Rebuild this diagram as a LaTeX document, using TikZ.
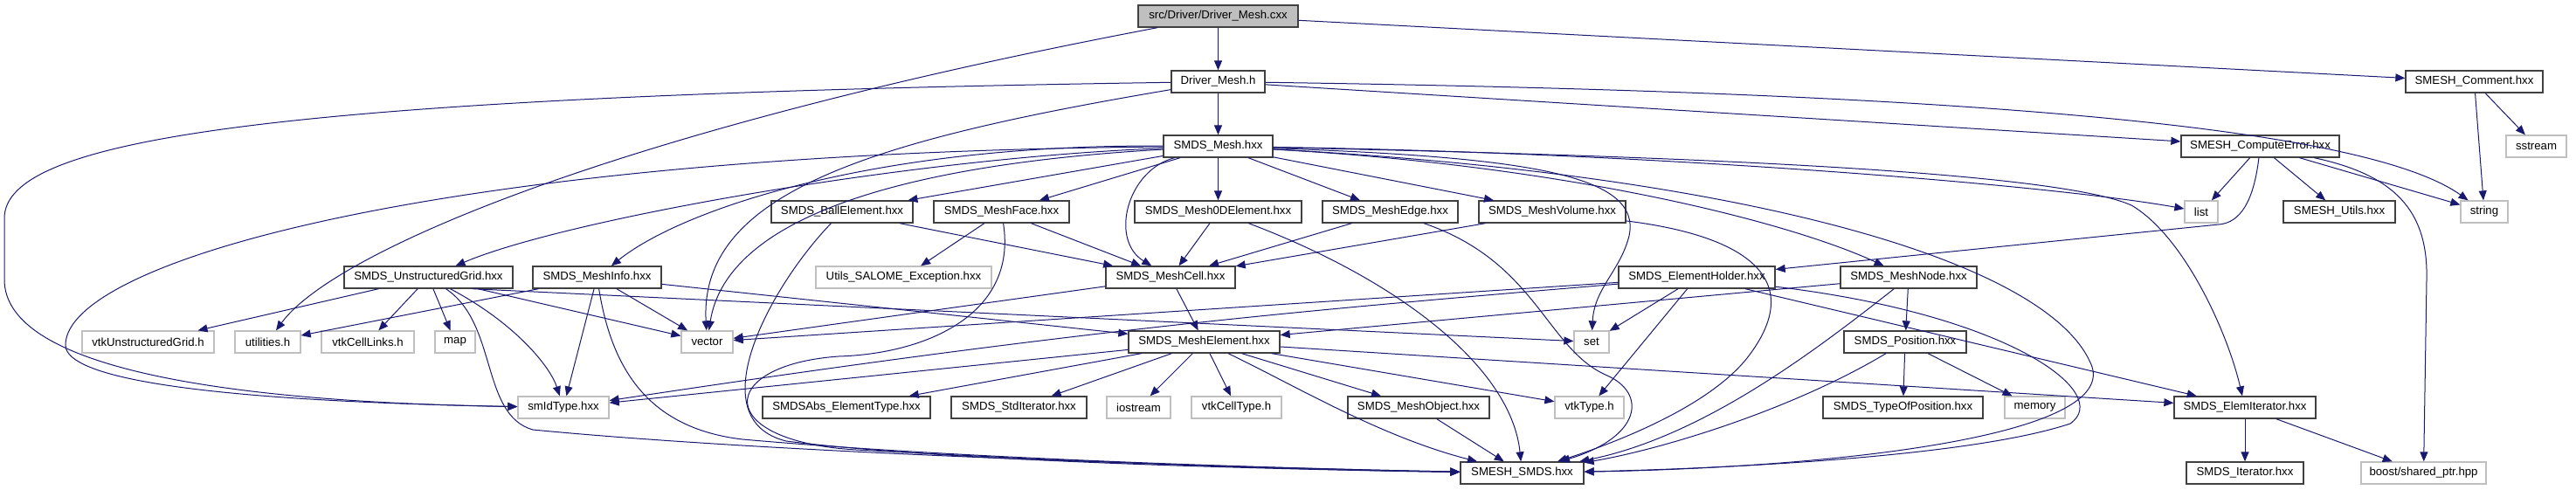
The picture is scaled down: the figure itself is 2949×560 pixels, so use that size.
\documentclass[tikz,border=0pt]{standalone}
\usepackage{fontspec}
\setmainfont{Liberation Sans}
\usetikzlibrary{arrows.meta}
\definecolor{edgec}{HTML}{191970}
\definecolor{extb}{HTML}{BFBFBF}
\definecolor{docb}{HTML}{404040}
\begin{document}
\begin{tikzpicture}[x=1pt,y=-1pt,
  nd/.style={draw=docb, line width=1.3pt, fill=white, minimum height=25pt, inner sep=0pt, font=\fontsize{13.2pt}{15pt}\selectfont, text=black},
  ext/.style={nd, draw=extb},
  rootn/.style={nd, fill=extb, draw=docb},
  e/.style={draw=edgec, line width=1pt, -{Triangle[length=11pt,width=9pt]}}]
\useasboundingbox (0,0) rectangle (2949,560);
% nodes
\node[rootn, minimum width=183pt] (root) at (1394.5,18.5) {src/Driver/Driver\_Mesh.cxx};
\node[nd, minimum width=107pt] (dmh) at (1394.5,93.5) {Driver\_Mesh.h};
\node[nd, minimum width=157pt] (comment) at (2832.5,93.5) {SMESH\_Comment.hxx};
\node[nd, minimum width=125pt] (mesh) at (1394.5,167.5) {SMDS\_Mesh.hxx};
\node[nd, minimum width=181pt] (cerr) at (2587.5,167.5) {SMESH\_ComputeError.hxx};
\node[ext, minimum width=69pt] (sstream) at (2903.5,167.5) {sstream};
\node[nd, minimum width=162pt] (ball) at (964,242.5) {SMDS\_BallElement.hxx};
\node[nd, minimum width=155pt] (face) at (1146.5,242.5) {SMDS\_MeshFace.hxx};
\node[nd, minimum width=191pt] (zerod) at (1394.5,242.5) {SMDS\_Mesh0DElement.hxx};
\node[nd, minimum width=155pt] (medge) at (1591.5,242.5) {SMDS\_MeshEdge.hxx};
\node[nd, minimum width=168pt] (vol) at (1777,242.5) {SMDS\_MeshVolume.hxx};
\node[ext, minimum width=38pt] (slist) at (2520,242.5) {list};
\node[nd, minimum width=128pt] (utils) at (2678,242.5) {SMESH\_Utils.hxx};
\node[ext, minimum width=54pt] (sstring) at (2844,242.5) {string};
\node[nd, minimum width=193pt] (ug) at (490.5,317.5) {SMDS\_UnstructuredGrid.hxx};
\node[nd, minimum width=147pt] (info) at (683.5,317.5) {SMDS\_MeshInfo.hxx};
\node[ext, minimum width=201pt] (salome) at (1034.5,317.5) {Utils\_SALOME\_Exception.hxx};
\node[nd, minimum width=148pt] (cell) at (1340,317.5) {SMDS\_MeshCell.hxx};
\node[nd, minimum width=179pt] (holder) at (1942.5,317.5) {SMDS\_ElementHolder.hxx};
\node[nd, minimum width=156pt] (mnode) at (2185,317.5) {SMDS\_MeshNode.hxx};
\node[ext, minimum width=151pt] (vtkug) at (169.5,391.5) {vtkUnstructuredGrid.h};
\node[ext, minimum width=75pt] (utilities) at (306.5,391.5) {utilities.h};
\node[ext, minimum width=106pt] (links) at (421,391.5) {vtkCellLinks.h};
\node[ext, minimum width=46pt] (smap) at (521,391.5) {map};
\node[ext, minimum width=59pt] (vector) at (809.5,391.5) {vector};
\node[nd, minimum width=173pt] (elem) at (1378.5,391.5) {SMDS\_MeshElement.hxx};
\node[ext, minimum width=40pt] (sset) at (1822,391.5) {set};
\node[nd, minimum width=140pt] (pos) at (2181,391.5) {SMDS\_Position.hxx};
\node[ext, minimum width=104pt] (smid) at (645,466.5) {smIdType.hxx};
\node[nd, minimum width=192pt] (abs) at (969,466.5) {SMDSAbs\_ElementType.hxx};
\node[nd, minimum width=155pt] (stdit) at (1166.5,466.5) {SMDS\_StdIterator.hxx};
\node[ext, minimum width=73pt] (iostream) at (1303.5,466.5) {iostream};
\node[ext, minimum width=103pt] (celltype) at (1415.5,466.5) {vtkCellType.h};
\node[nd, minimum width=162pt] (obj) at (1624,466.5) {SMDS\_MeshObject.hxx};
\node[ext, minimum width=79pt] (vtktype) at (1819.5,466.5) {vtkType.h};
\node[nd, minimum width=183pt] (tpos) at (2178.5,466.5) {SMDS\_TypeOfPosition.hxx};
\node[ext, minimum width=69pt] (memory) at (2329.5,466.5) {memory};
\node[nd, minimum width=162pt] (elemit) at (2570,466.5) {SMDS\_ElemIterator.hxx};
\node[nd, minimum width=141pt] (smds) at (1742.5,541.5) {SMESH\_SMDS.hxx};
\node[nd, minimum width=134pt] (iter) at (2570,541.5) {SMDS\_Iterator.hxx};
\node[ext, minimum width=143pt] (boost) at (2774.5,541.5) {boost/shared\_ptr.hpp};
% root
\draw[e] (root) -- (dmh);
\draw[e] (root) -- (comment);
\draw[e] (root) .. controls (700,150) and (380,290) .. (utilities);
% Driver_Mesh.h
\draw[e] (dmh) -- (mesh);
\draw[e] (dmh) -- (cerr);
\draw[e] (dmh) .. controls (2200,105) and (2700,140) .. (sstring);
\draw[e] (dmh) .. controls (1000,160) and (800,220) .. (vector);
\draw[e] (dmh) .. controls (300,110) and (5,160) .. (5,250) -- (5,320) .. controls (5,420) and (250,460) .. (smid);
% SMDS_Mesh
\draw[e] (mesh) -- (ball);
\draw[e] (mesh) -- (face);
\draw[e] (mesh) -- (zerod);
\draw[e] (mesh) -- (medge);
\draw[e] (mesh) -- (vol);
\draw[e] (mesh) .. controls (1290,195) and (1270,275) .. (cell);
\draw[e] (mesh) .. controls (1050,180) and (650,250) .. (ug);
\draw[e] (mesh) .. controls (1000,165) and (780,240) .. (info);
\draw[e] (mesh) .. controls (1000,190) and (830,260) .. (vector);
\draw[e] (mesh) .. controls (500,175) and (75,300) .. (75,395) .. controls (75,450) and (400,462) .. (smid);
\draw[e] (mesh) .. controls (1900,175) and (2350,212) .. (slist);
\draw[e] (mesh) .. controls (1900,178) and (2350,195) .. (2440,235) .. controls (2500,270) and (2550,380) .. (elemit);
\draw[e] (mesh) .. controls (1750,180) and (1880,200) .. (1865,270) .. controls (1855,310) and (1825,330) .. (sset);
\draw[e] (mesh) .. controls (1800,190) and (2050,255) .. (mnode);
\draw[e] (mesh) .. controls (2000,200) and (2350,300) .. (2395,420) .. controls (2420,500) and (2100,535) .. (smds);
% ComputeError
\draw[e] (cerr) -- (slist);
\draw[e] (cerr) -- (utils);
\draw[e] (cerr) -- (sstring);
\draw[e] (cerr) .. controls (2740,200) and (2780,240) .. (2778,320) -- (boost);
\draw[e] (cerr) .. controls (2580,230) and (2565,255) .. (2540,257) -- (holder);
% Comment
\draw[e] (comment) -- (sstring);
\draw[e] (comment) -- (sstream);
% row 4
\draw[e] (ball) -- (cell);
\draw[e] (ball) .. controls (880,330) and (800,480) .. (900,505) .. controls (1100,530) and (1500,538) .. (smds);
\draw[e] (face) -- (salome);
\draw[e] (face) -- (cell);
\draw[e] (face) .. controls (1165,360) and (1060,405) .. (960,408) .. controls (820,418) and (815,505) .. (980,515) .. controls (1300,532) and (1500,538) .. (smds);
\draw[e] (zerod) -- (cell);
\draw[e] (zerod) .. controls (1600,320) and (1730,420) .. (smds);
\draw[e] (medge) -- (cell);
\draw[e] (medge) .. controls (1760,300) and (1770,400) .. (1840,430) .. controls (1885,450) and (1880,500) .. (smds);
\draw[e] (vol) -- (cell);
\draw[e] (vol) .. controls (2000,270) and (2070,320) .. (2000,410) .. controls (1960,460) and (1870,500) .. (smds);
% row 5
\draw[e] (ug) -- (vtkug);
\draw[e] (ug) -- (links);
\draw[e] (ug) -- (smap);
\draw[e] (ug) -- (vector);
\draw[e] (ug) .. controls (590,370) and (630,420) .. (smid);
\draw[e] (ug) .. controls (570,370) and (550,475) .. (610,492) .. controls (900,520) and (1400,535) .. (smds);
\draw[e] ([xshift=-47pt]ug.south east) -- (sset);
\draw[e] (info) -- (vector);
\draw[e] (info) -- (smid);
\draw[e] (info) -- (utilities);
\draw[e] (info) -- (elem);
\draw[e] (info) .. controls (700,420) and (740,490) .. (850,503) .. controls (1100,525) and (1450,536) .. (smds);
\draw[e] (cell) -- (elem);
\draw[e] (cell) -- (vector);
\draw[e] (holder) -- (vector);
\draw[e] (holder) .. controls (1500,355) and (1250,375) .. (smid);
\draw[e] (holder) -- (sset);
\draw[e] (holder) -- (vtktype);
\draw[e] (holder) -- (elemit);
\draw[e] (holder) .. controls (2300,360) and (2420,450) .. (2370,485) .. controls (2250,525) and (1950,537) .. (smds);
\draw[e] (mnode) -- (elem);
\draw[e] (mnode) -- (pos);
\draw[e] (mnode) .. controls (2080,400) and (1950,500) .. (smds);
% row 6
\draw[e] (pos) -- (tpos);
\draw[e] (pos) -- (memory);
\draw[e] (pos) .. controls (2050,470) and (1900,515) .. (smds);
\draw[e] (elem) -- (abs);
\draw[e] (elem) -- (stdit);
\draw[e] (elem) -- (iostream);
\draw[e] (elem) -- (celltype);
\draw[e] (elem) -- (obj);
\draw[e] (elem) -- (vtktype);
\draw[e] (elem) .. controls (1480,440) and (1580,500) .. (smds);
\draw[e] (elem) -- (elemit);
\draw[e] (elem) -- (smid);
% row 7
\draw[e] (elemit) -- (iter);
\draw[e] (elemit) -- (boost);
\draw[e] (obj) -- (smds);
\end{tikzpicture}
\end{document}
